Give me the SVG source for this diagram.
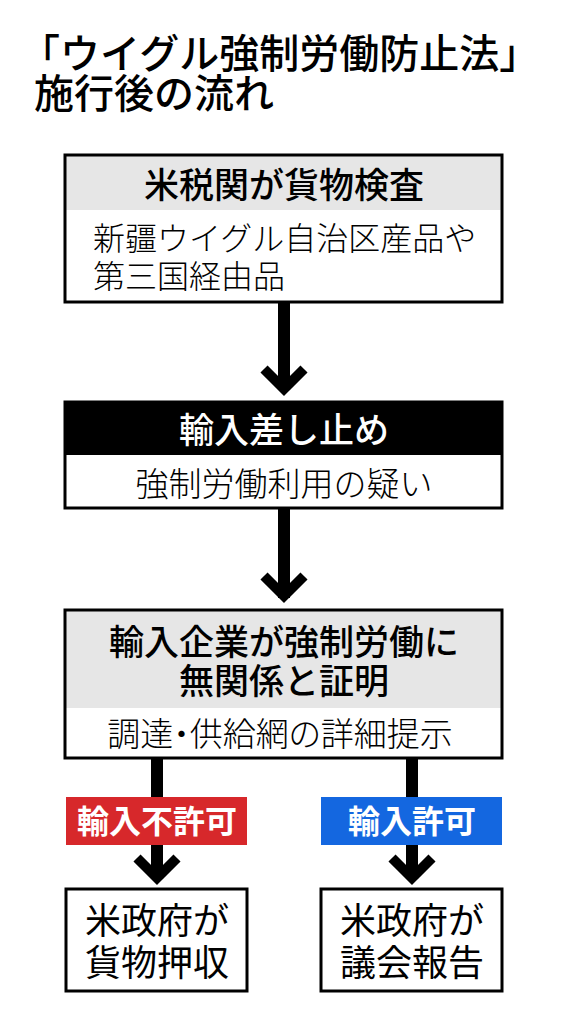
<svg xmlns="http://www.w3.org/2000/svg" width="567" height="1024" viewBox="0 0 567 1024">
<style>
text{font-family:"Noto Sans CJK JP","Noto Sans CJK SC",sans-serif;}
.title{font-size:40px;font-weight:500;fill:#000;}
.hd{font-size:35px;font-weight:500;fill:#000;text-anchor:middle;}
.hdw{font-size:35px;font-weight:500;fill:#fff;text-anchor:middle;}
.bd{font-size:32px;font-weight:300;fill:#000;}
.bdc{font-size:33px;font-weight:300;fill:#000;text-anchor:middle;}
.lab{font-size:32px;font-weight:700;fill:#fff;text-anchor:middle;}
.out{font-size:36px;font-weight:400;fill:#000;text-anchor:middle;}
.frame{fill:none;stroke:#000;stroke-width:3;}
.shaft{stroke:#000;stroke-width:12;fill:none;}
.head{stroke:#000;stroke-width:10;fill:none;stroke-linecap:butt;stroke-linejoin:miter;}
</style>
<rect width="567" height="1024" fill="#fff"/>
<g id="title">
<text class="title"><tspan x="20" y="68">「ウイグル強制労働防止法」</tspan><tspan x="34" y="108">施行後の流れ</tspan></text>
</g>
<g id="connectors">
<line class="shaft" x1="284" y1="302" x2="284" y2="390"/>
<polyline class="head" points="264,369 284,389 304,369"/>
<line class="shaft" x1="284" y1="508" x2="284" y2="598"/>
<polyline class="head" points="264,576 284,596 304,576"/>
<line class="shaft" x1="157" y1="758" x2="157" y2="878"/>
<polyline class="head" points="137,858 157,878 177,858"/>
<line class="shaft" x1="412" y1="758" x2="412" y2="878"/>
<polyline class="head" points="392,858 412,878 432,858"/>
</g>
<g id="node-inspection">
<rect x="65" y="155" width="437" height="55" fill="#e6e6e6"/>
<rect class="frame" x="65" y="155" width="437" height="147"/>
<text class="hd" x="284" y="198">米税関が貨物検査</text>
<text class="bd"><tspan x="93" y="250">新疆ウイグル自治区産品や</tspan><tspan x="93" y="288">第三国経由品</tspan></text>
</g>
<g id="node-detention">
<rect x="65" y="402" width="437" height="53" fill="#000"/>
<rect class="frame" x="65" y="402" width="437" height="106"/>
<text class="hdw" x="284" y="443">輸入差し止め</text>
<text class="bdc" x="284" y="496">強制労働利用の疑い</text>
</g>
<g id="node-proof">
<rect x="65" y="610" width="437" height="98" fill="#e6e6e6"/>
<rect class="frame" x="65" y="610" width="437" height="148"/>
<text class="hd"><tspan x="284" y="655">輸入企業が強制労働に</tspan><tspan x="284" y="694">無関係と証明</tspan></text>
<text class="bdc" x="280" y="746" style="font-feature-settings:'palt'">調達・供給網の詳細提示</text>
</g>
<g id="label-deny">
<rect x="66" y="797" width="181" height="48" fill="#d7282b"/>
<text class="lab" x="157" y="833">輸入不許可</text>
</g>
<g id="label-allow">
<rect x="321" y="797" width="181" height="48" fill="#1467e0"/>
<text class="lab" x="412" y="833">輸入許可</text>
</g>
<g id="node-seize">
<rect class="frame" x="66" y="889" width="181" height="102" fill="#fff"/>
<text class="out"><tspan x="157" y="934">米政府が</tspan><tspan x="157" y="976">貨物押収</tspan></text>
</g>
<g id="node-report">
<rect class="frame" x="321" y="889" width="181" height="102" fill="#fff"/>
<text class="out"><tspan x="412" y="934">米政府が</tspan><tspan x="412" y="976">議会報告</tspan></text>
</g>
</svg>
